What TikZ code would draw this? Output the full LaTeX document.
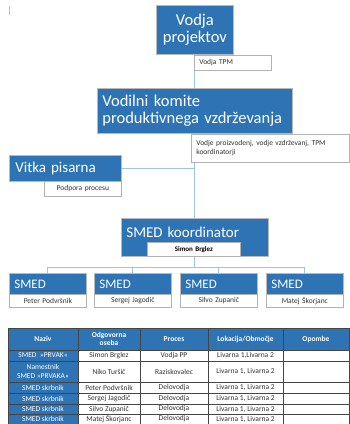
\documentclass[tikz,border=0pt]{standalone}
\usepackage{fontspec}
\setmainfont{Carlito}
\usetikzlibrary{backgrounds}

\definecolor{smedblue}{HTML}{2E74B5}
\definecolor{linkblue}{HTML}{9DC3E6}
\definecolor{gridgray}{HTML}{454545}
\definecolor{textgray}{HTML}{333333}

\tikzset{
  bluebox/.style={anchor=north west, fill=smedblue, draw=gray!55, line width=0.8pt,
    text=white, inner xsep=5pt, inner ysep=0pt},
  notebox/.style={anchor=north west, fill=white, draw=gray!60, line width=0.7pt,
    text=textgray, inner xsep=5pt, inner ysep=0pt, font=\fontsize{7.5}{9}\selectfont},
  link/.style={draw=linkblue, line width=1pt},
  grid/.style={draw=gridgray, line width=0.6pt},
  cell/.style={font=\fontsize{7.5}{8.5}\selectfont, text=textgray, align=center, inner sep=0pt},
  namecell/.style={cell, text=white},
  headcell/.style={cell, text=white, font=\fontsize{7.5}{8.5}\selectfont\bfseries},
}

\begin{document}
\begin{tikzpicture}[x=1pt, y=-1pt]
  \useasboundingbox (0,0) rectangle (350,424);

  % kazalec v kotu
  \draw[gray!50, line width=1pt] (9,6) -- (9,15);

  % Vodstvo
  \node[bluebox, minimum width=77, minimum height=49, text width=67pt, align=center,
    font=\fontsize{16.5}{17}\selectfont] (vodja) at (156,5) {Vodja\\projektov};
  \node[notebox, minimum width=77, minimum height=15, text width=67pt, align=left]
    (tpm) at (194,55) {Vodja TPM};

  \node[bluebox, minimum width=195, minimum height=45, text width=185pt, align=left,
    font=\fontsize{16.5}{17}\selectfont] (komite) at (97,88)
    {Vodilni komite\\produktivnega vzdrževanja};
  \node[notebox, minimum width=158, minimum height=28, text width=148pt, align=left]
    (vodje) at (191,134) {Vodje proizvodenj, vodje vzdrževanj, TPM\\koordinatorji};

  \node[bluebox, minimum width=112, minimum height=26, inner xsep=6pt, text width=100pt,
    align=left, font=\fontsize{15}{15}\selectfont] (vitka) at (9,155) {Vitka pisarna};
  \node[notebox, minimum width=77, minimum height=15, text width=67pt, align=center]
    (podpora) at (44,181) {Podpora procesu};

  % SMED koordinator
  \node[bluebox, minimum width=147, minimum height=38, text width=137pt, text depth=10pt,
    align=left, font=\fontsize{15}{15}\selectfont] (koord) at (121,218) {SMED koordinator};
  \node[notebox, minimum width=93, minimum height=14, text width=83pt, align=center,
    text=black, font=\fontsize{7}{8}\selectfont\bfseries] (brglez) at (147,242) {Simon Brglez};

  % SMED skrbniki
  \foreach \x/\name/\who in {9/smedA/Peter Podvršnik, 94/smedB/Sergej Jagodič,
      180/smedC/Silvo Zupanič, 266/smedD/Matej Škorjanc} {
    \node[bluebox, minimum width=77, minimum height=21, text width=67pt, align=left,
      font=\fontsize{13}{13}\selectfont] (\name) at (\x,273) {SMED};
    \node[notebox, minimum width=77, minimum height=13, text width=67pt, align=center]
      (\name-who) at (\x,294) {\who};
  }

  % Povezave
  \begin{scope}[on background layer]
    \draw[link] (vodja.south) -- (komite.north);
    \draw[link] (komite.south) -- (koord.north);
    \draw[link] (vitka.east) -- (vitka.east -| komite.south);
    \coordinate (bus) at (0,267);
    \foreach \s in {smedA,smedB,smedC,smedD}
      \draw[link] (koord.south) -- (koord.south |- bus) -| (\s.north);
  \end{scope}

  % Tabela
  \fill[smedblue] (8,328) rectangle (349,350);
  \fill[smedblue] (8,350) rectangle (78,424);
  \foreach \y in {328,350,361,382,393,404,414,424}
    \draw[grid] (8,\y) -- (349,\y);
  \foreach \x in {8,78,140,208,283,349}
    \draw[grid] (\x,328) -- (\x,424);

  \foreach \xc/\h/\txt in {43/1/Naziv, 109/2/{Odgovorna\\oseba}, 174/3/Proces,
      245.5/4/{Lokacija/Območje}, 316/5/Opombe}
    \node[headcell] (h\h) at (\xc,339) {\txt};

  \foreach \yc/\rw/\naziv/\oseba/\proces/\lok in {
      355.5/1/{SMED ~»PRVAK«}/Simon Brglez/Vodja PP/{Livarna 1,Livarna 2},
      371.5/2/{Namestnik\\SMED »PRVAKA«}/Niko Turšič/Raziskovalec/{Livarna 1, Livarna 2},
      387.5/3/SMED skrbnik/Peter Podvršnik/Delovodja/{Livarna 1, Livarna 2},
      398.5/4/SMED skrbnik/Sergej Jagodič/Delovodja/{Livarna 1, Livarna 2},
      409/5/SMED skrbnik/Silvo Zupanič/Delovodja/{Livarna 1, Livarna 2},
      419/6/SMED skrbnik/Matej Škorjanc/Delovodja/{Livarna 1, Livarna 2}} {
    \node[namecell] (n\rw) at (43,\yc) {\naziv};
    \node[cell] (o\rw) at (109,\yc) {\oseba};
    \node[cell] (p\rw) at (174,\yc) {\proces};
    \node[cell] (l\rw) at (245.5,\yc) {\lok};
  }
\end{tikzpicture}
\end{document}
